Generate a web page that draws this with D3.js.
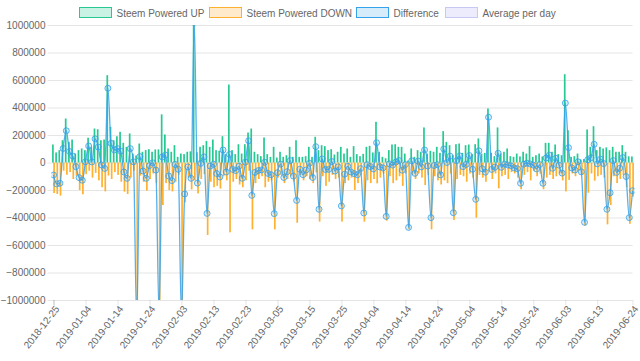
<!DOCTYPE html>
<html><head><meta charset="utf-8">
<script src="https://cdn.jsdelivr.net/npm/d3@7"></script>
<style>body{margin:0;background:#fff}svg{display:block}text{font-family:"Liberation Sans",Arial,Helvetica,sans-serif;}</style>
</head><body><svg id="c" width="640" height="361"></svg>
<script>
// values in thousands
const UNIT = 1000;
const startDate = "2018-12-25";
const dayCount = 182;
const tickLabels = ["2018-12-25","2019-01-04","2019-01-14","2019-01-24","2019-02-03","2019-02-13","2019-02-23","2019-03-05","2019-03-15","2019-03-25","2019-04-04","2019-04-14","2019-04-24","2019-05-04","2019-05-14","2019-05-24","2019-06-03","2019-06-13","2019-06-24"];
const yTicks = [1000000,800000,600000,400000,200000,0,-200000,-400000,-600000,-800000,-1000000];
const seriesNames = ["Steem Powered UP","Steem Powered DOWN","Difference","Average per day"];
const up = [131,73,90,162,320,150,167,65,90,102,90,180,114,247,242,162,167,635,259,162,191,223,143,114,211,65,51,138,78,90,97,78,95,95,350,204,102,78,126,41,65,61,78,81,1150,75,114,126,157,114,167,90,85,191,61,567,90,61,133,65,133,218,247,78,61,46,182,61,41,114,36,78,41,53,114,41,162,41,41,46,114,41,187,90,126,119,90,97,58,78,114,65,102,41,119,61,46,63,114,121,73,296,78,41,31,90,131,133,114,114,65,14,102,41,90,78,255,65,85,78,114,70,228,150,126,53,133,138,70,126,131,61,133,175,65,70,393,70,46,255,65,78,102,46,41,65,44,78,65,119,41,53,65,44,143,143,78,131,61,53,642,235,41,46,65,22,25,240,114,264,90,114,102,110,90,114,78,78,126,78,45,44];
const down = [-222,-229,-241,-60,-89,-70,-120,-95,-200,-231,-85,-60,-110,-75,-130,-180,-210,-95,-120,-70,-90,-140,-212,-229,-110,-60,-1200,-95,-140,-205,-120,-80,-150,-1200,-309,-150,-200,-210,-140,-90,-1200,-290,-110,-196,-130,-225,-120,-85,-527,-140,-180,-170,-190,-100,-130,-508,-140,-120,-160,-180,-130,-60,-486,-150,-120,-100,-180,-140,-130,-486,-110,-90,-150,-120,-100,-140,-438,-90,-130,-100,-120,-150,-72,-430,-100,-170,-140,-90,-120,-110,-430,-150,-130,-110,-200,-150,-90,-430,-130,-150,-120,-152,-110,-80,-423,-100,-150,-130,-100,-170,-80,-486,-90,-120,-80,-110,-164,-90,-486,-100,-130,-160,-130,-150,-80,-418,-120,-90,-100,-140,-80,-110,-401,-90,-110,-140,-64,-120,-80,-188,-100,-90,-120,-70,-80,-110,-195,-90,-70,-130,-60,-100,-80,-195,-110,-90,-120,-100,-80,-130,-210,-127,-80,-100,-60,-90,-460,-220,-80,-132,-100,-90,-110,-450,-310,-100,-150,-120,-90,-180,-446,-249];
const diff = [-91,-156,-151,102,231,80,47,-30,-110,-129,5,120,4,172,112,-18,-43,540,139,92,101,83,-69,-115,101,5,-1149,43,-62,-115,-23,-2,-55,-1105,41,54,-98,-132,-14,-49,-1135,-229,-32,-115,1020,-150,-6,41,-370,-26,-13,-80,-105,91,-69,59,-50,-59,-27,-115,3,158,-239,-72,-59,-54,2,-79,-89,-372,-74,-12,-109,-67,14,-99,-276,-49,-89,-54,-6,-109,115,-340,26,-51,-50,7,-62,-32,-316,-85,-28,-69,-81,-89,-44,-367,-16,-29,-47,144,-32,-39,-392,-10,-19,3,14,-56,-15,-472,12,-79,10,-32,91,-25,-401,-22,-16,-90,98,0,46,-365,13,48,-30,-14,51,-49,-268,85,-45,-70,329,-50,-34,67,-35,-12,-18,-24,-39,-45,-151,-12,-5,-11,-19,-47,-15,-151,33,53,-42,31,-19,-77,432,108,-39,-54,5,-68,-435,20,34,132,-10,24,-8,-340,-220,14,-72,-42,36,-102,-401,-205];

const fmt = d3.timeFormat("%Y-%m-%d");
const t0 = d3.timeParse("%Y-%m-%d")(startDate);
const dates = d3.range(dayCount).map(i => fmt(d3.timeDay.offset(t0, i)));

const colors = {
  up: "rgb(38,201,146)", upFill: "rgba(38,201,146,0.25)",
  down: "rgb(255,176,46)", downFill: "rgba(255,176,46,0.25)",
  diff: "rgb(54,162,235)", diffFill: "rgba(54,162,235,0.2)",
  avg: "rgb(200,200,245)", avgFill: "rgba(160,160,240,0.2)"
};

const svg = d3.select("#c");
const L = 53.5, R = 632.5, T = 25, B = 300;
const x = d3.scalePoint().domain(dates).range([L, R]);
const y = d3.scaleLinear().domain([-1000000, 1000000]).range([B, T]);

// horizontal grid + y axis
const yAxis = d3.axisLeft(y).tickValues(yTicks).tickSize(-(R - L)).tickPadding(8).tickFormat(d3.format("d"));
const gy = svg.append("g").attr("transform", `translate(${L},0)`).call(yAxis);
gy.select(".domain").remove();
gy.selectAll(".tick line").attr("stroke", "rgba(0,0,0,0.1)").attr("x1", -6);
gy.selectAll(".tick text").attr("fill", "#666").attr("font-size", 10).attr("x", -8);

// vertical grid + x axis
const shown = tickLabels;
const xAxis = d3.axisBottom(x).tickValues(shown).tickSize(-(B - T)).tickFormat(d => d);
const gx = svg.append("g").attr("transform", `translate(0,${B})`).call(xAxis);
gx.select(".domain").remove();
gx.selectAll(".tick line").attr("stroke", (d, i) => i === 0 ? "rgba(0,0,0,0.25)" : "rgba(0,0,0,0.1)").attr("y2", 5);
gx.selectAll(".tick text").attr("fill", "#666").attr("font-size", 10)
  .attr("text-anchor", "end").attr("y", 0).attr("dy", 0)
  .attr("transform", "translate(6,9) rotate(-52)");

// clip
svg.append("clipPath").attr("id", "clip").append("rect").attr("x", L - 2).attr("y", T).attr("width", R - L + 4).attr("height", B - T);
const plot = svg.append("g").attr("clip-path", "url(#clip)");

const bw = 1.7;
plot.append("g").selectAll("rect").data(down).join("rect")
  .attr("x", (d, i) => x(dates[i]) + 0.6 - bw / 2)
  .attr("y", y(0)).attr("width", bw)
  .attr("height", d => y(d * UNIT) - y(0))
  .attr("fill", colors.down);
plot.append("g").selectAll("rect").data(up).join("rect")
  .attr("x", (d, i) => x(dates[i]) - 0.6 - bw / 2)
  .attr("y", d => y(d * UNIT)).attr("width", bw)
  .attr("height", d => y(0) - y(d * UNIT))
  .attr("fill", colors.up);

const line = d3.line().x((d, i) => x(dates[i])).y(d => y(d * UNIT)).curve(d3.curveMonotoneX);
plot.append("path").datum(diff).attr("d", line).attr("fill", "none").attr("stroke", colors.diff).attr("stroke-width", 1.3).attr("stroke-opacity", 0.85);
plot.append("g").selectAll("circle").data(diff).join("circle")
  .attr("cx", (d, i) => x(dates[i])).attr("cy", d => y(d * UNIT)).attr("r", 3)
  .attr("fill", colors.diffFill).attr("stroke", colors.diff).attr("stroke-opacity", 0.8).attr("stroke-width", 1);

// legend
const legendItems = [
  {name: seriesNames[0], fill: colors.upFill, stroke: colors.up, x: 79.5},
  {name: seriesNames[1], fill: colors.downFill, stroke: colors.down, x: 209.5},
  {name: seriesNames[2], fill: colors.diffFill, stroke: colors.diff, x: 356.5},
  {name: seriesNames[3], fill: colors.avgFill, stroke: colors.avg, x: 445.5}
];
const lg = svg.append("g");
legendItems.forEach(it => {
  lg.append("rect").attr("x", it.x).attr("y", 7.5).attr("width", 32).attr("height", 10)
    .attr("fill", it.fill).attr("stroke", it.stroke).attr("stroke-width", 1);
  lg.append("text").attr("x", it.x + 37).attr("y", 16.5).attr("font-size", 10).attr("fill", "#666").text(it.name);
});
</script></body></html>
